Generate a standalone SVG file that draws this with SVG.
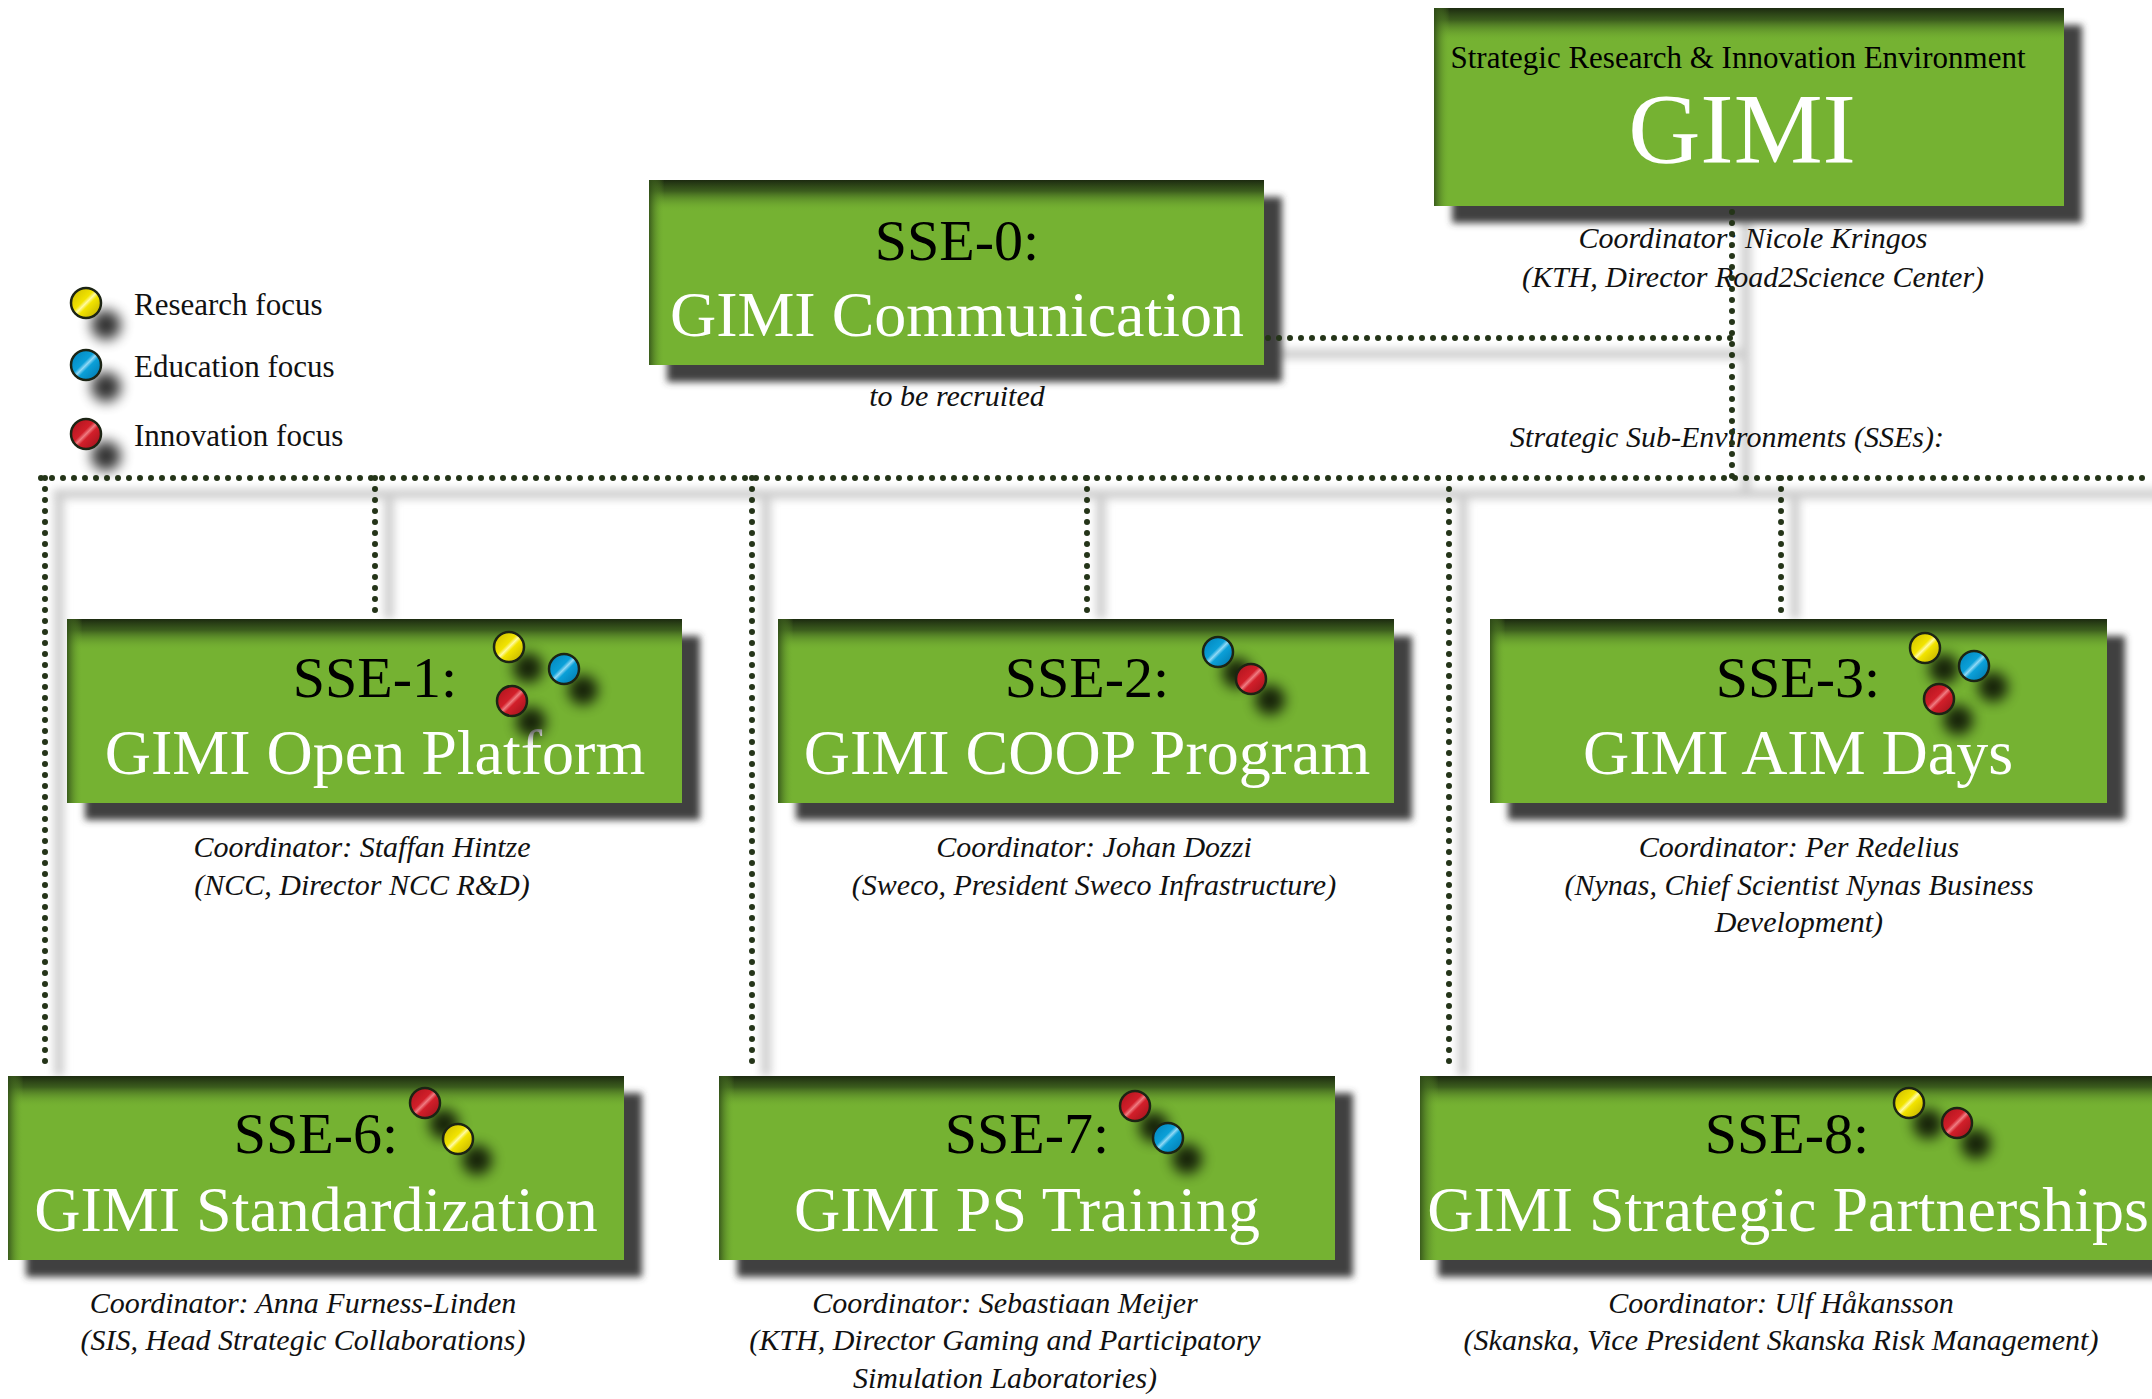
<svg xmlns="http://www.w3.org/2000/svg" width="2152" height="1399" viewBox="0 0 2152 1399">
  <style>
    .box { fill: #75b232; }
    .shadowbox { fill: #3f3f3f; }
    .topshade { fill: url(#topShade); }
    .leftshade { fill: url(#leftShade); }
    .head { font-family: "Liberation Serif", "DejaVu Serif", serif; font-size: 58px; fill: #000; text-anchor: middle; }
    .title { font-family: "Liberation Serif", "DejaVu Serif", serif; font-size: 64px; fill: #fff; text-anchor: middle; }
    .note { font-family: "Liberation Serif", "DejaVu Serif", serif; font-style: italic; font-size: 30px; fill: #111; text-anchor: middle; }
    .legend { font-family: "Liberation Serif", "DejaVu Serif", serif; font-size: 31px; fill: #111; }
    .dots { fill: none; stroke: #243418; stroke-width: 6; stroke-linecap: round; stroke-dasharray: 0 11; }
    .dotshadow { fill: none; stroke: #cfcfcf; stroke-width: 10; }
    .focus { stroke: #1c2414; stroke-width: 2.5; }
    .ballshadow { fill: #000; opacity: 0.8; filter: url(#ballBlur); }
  </style>
  <defs>
    <filter id="boxBlur" x="-10%" y="-10%" width="120%" height="120%">
      <feGaussianBlur stdDeviation="3.5"/>
    </filter>
    <filter id="lineBlur" x="-20%" y="-20%" width="140%" height="140%">
      <feGaussianBlur stdDeviation="4"/>
    </filter>
    <filter id="ballBlur" x="-100%" y="-100%" width="300%" height="300%">
      <feGaussianBlur stdDeviation="6.5"/>
    </filter>
    <linearGradient id="topShade" x1="0" y1="0" x2="0" y2="1">
      <stop offset="0" stop-color="#1c2a10" stop-opacity="1"/>
      <stop offset="0.06" stop-color="#2d4718" stop-opacity="0.8"/>
      <stop offset="0.17" stop-color="#75b232" stop-opacity="0"/>
    </linearGradient>
    <linearGradient id="leftShade" x1="0" y1="0" x2="1" y2="0">
      <stop offset="0" stop-color="#2f4c18" stop-opacity="0.85"/>
      <stop offset="0.025" stop-color="#75b232" stop-opacity="0"/>
    </linearGradient>
    <linearGradient id="gYellow" x1="0" y1="0" x2="1" y2="1">
      <stop offset="0" stop-color="#c9b800"/>
      <stop offset="0.42" stop-color="#f2e400"/>
      <stop offset="0.5" stop-color="#fffaa0"/>
      <stop offset="0.58" stop-color="#f2e400"/>
      <stop offset="1" stop-color="#b8a600"/>
    </linearGradient>
    <linearGradient id="gBlue" x1="0" y1="0" x2="1" y2="1">
      <stop offset="0" stop-color="#0080b8"/>
      <stop offset="0.42" stop-color="#0ba0d8"/>
      <stop offset="0.5" stop-color="#8fd8f5"/>
      <stop offset="0.58" stop-color="#0ba0d8"/>
      <stop offset="1" stop-color="#0072a8"/>
    </linearGradient>
    <linearGradient id="gRed" x1="0" y1="0" x2="1" y2="1">
      <stop offset="0" stop-color="#a8121b"/>
      <stop offset="0.42" stop-color="#d21f2a"/>
      <stop offset="0.5" stop-color="#ef7a80"/>
      <stop offset="0.58" stop-color="#d21f2a"/>
      <stop offset="1" stop-color="#98101a"/>
    </linearGradient>
  </defs>

  <!-- soft shadows under the dotted connectors -->
  <g id="connector-shadows" filter="url(#lineBlur)">
    <path class="dotshadow" d="M1276 354 H1744"/>
    <path class="dotshadow" d="M1746 220 V492"/>
    <path class="dotshadow" d="M53 494 H2160"/>
    <path class="dotshadow" d="M389 494 V619"/>
    <path class="dotshadow" d="M59 494 V1076"/>
    <path class="dotshadow" d="M766 494 V1076"/>
    <path class="dotshadow" d="M1101 494 V619"/>
    <path class="dotshadow" d="M1463 494 V1076"/>
    <path class="dotshadow" d="M1795 494 V619"/>
  </g>

  <!-- legend -->
  <g id="legend">
    <circle class="ballshadow" cx="106" cy="325" r="15"/>
    <circle class="focus" cx="86" cy="303" r="15" fill="url(#gYellow)"/>
    <text class="legend" x="134" y="315">Research focus</text>
    <circle class="ballshadow" cx="106" cy="387" r="15"/>
    <circle class="focus" cx="86" cy="365" r="15" fill="url(#gBlue)"/>
    <text class="legend" x="134" y="377">Education focus</text>
    <circle class="ballshadow" cx="106" cy="456" r="15"/>
    <circle class="focus" cx="86" cy="434" r="15" fill="url(#gRed)"/>
    <text class="legend" x="134" y="446">Innovation focus</text>
  </g>

  <!-- top level environment -->
  <g id="gimi">
    <rect class="shadowbox" x="1452" y="25" width="630" height="198" filter="url(#boxBlur)"/>
    <rect class="box" x="1434" y="8" width="630" height="198"/>
    <rect class="topshade" x="1434" y="8" width="630" height="198"/>
    <rect class="leftshade" x="1434" y="8" width="630" height="198"/>
    <text x="1738" y="68" font-family="Liberation Serif, DejaVu Serif, serif" font-size="31" fill="#000" text-anchor="middle">Strategic Research &amp; Innovation Environment</text>
    <text x="1742" y="162" font-family="Liberation Serif, DejaVu Serif, serif" font-size="100" fill="#fff" text-anchor="middle">GIMI</text>
    <text class="note" x="1753" y="248">Coordinator: Nicole Kringos</text>
    <text class="note" x="1753" y="287">(KTH, Director Road2Science Center)</text>
  </g>

  <g id="sse-0">
    <rect class="shadowbox" x="667" y="197" width="615" height="185" filter="url(#boxBlur)"/>
    <rect class="box" x="649" y="180" width="615" height="185"/>
    <rect class="topshade" x="649" y="180" width="615" height="185"/>
    <rect class="leftshade" x="649" y="180" width="615" height="185"/>
    <text class="head" x="957" y="260">SSE-0:</text>
    <text class="title" x="957" y="336">GIMI Communication</text>
    <text class="note" x="957" y="406">to be recruited</text>
  </g>

  <text class="note" x="1727" y="447">Strategic Sub-Environments (SSEs):</text>

  <g id="sse-1">
    <rect class="shadowbox" x="85" y="636" width="615" height="184" filter="url(#boxBlur)"/>
    <rect class="box" x="67" y="619" width="615" height="184"/>
    <rect class="topshade" x="67" y="619" width="615" height="184"/>
    <rect class="leftshade" x="67" y="619" width="615" height="184"/>
    <text class="head" x="375" y="697">SSE-1:</text>
    <text class="title" x="375" y="774">GIMI Open Platform</text>
    <circle class="ballshadow" cx="528" cy="668" r="15"/>
    <circle class="ballshadow" cx="583" cy="690" r="15"/>
    <circle class="ballshadow" cx="531" cy="722" r="15"/>
    <circle class="focus" cx="509" cy="647" r="15" fill="url(#gYellow)"/>
    <circle class="focus" cx="564" cy="669" r="15" fill="url(#gBlue)"/>
    <circle class="focus" cx="512" cy="701" r="15" fill="url(#gRed)"/>
    <text class="note" x="362" y="857">Coordinator: Staffan Hintze</text>
    <text class="note" x="362" y="895">(NCC, Director NCC R&amp;D)</text>
  </g>

  <g id="sse-2">
    <rect class="shadowbox" x="796" y="636" width="616" height="184" filter="url(#boxBlur)"/>
    <rect class="box" x="778" y="619" width="616" height="184"/>
    <rect class="topshade" x="778" y="619" width="616" height="184"/>
    <rect class="leftshade" x="778" y="619" width="616" height="184"/>
    <text class="head" x="1087" y="697">SSE-2:</text>
    <text class="title" x="1087" y="774">GIMI COOP Program</text>
    <circle class="ballshadow" cx="1237" cy="673" r="15"/>
    <circle class="ballshadow" cx="1270" cy="700" r="15"/>
    <circle class="focus" cx="1218" cy="652" r="15" fill="url(#gBlue)"/>
    <circle class="focus" cx="1251" cy="679" r="15" fill="url(#gRed)"/>
    <text class="note" x="1094" y="857">Coordinator: Johan Dozzi</text>
    <text class="note" x="1094" y="895">(Sweco, President Sweco Infrastructure)</text>
  </g>

  <g id="sse-3">
    <rect class="shadowbox" x="1508" y="636" width="617" height="184" filter="url(#boxBlur)"/>
    <rect class="box" x="1490" y="619" width="617" height="184"/>
    <rect class="topshade" x="1490" y="619" width="617" height="184"/>
    <rect class="leftshade" x="1490" y="619" width="617" height="184"/>
    <text class="head" x="1798" y="697">SSE-3:</text>
    <text class="title" x="1798" y="774">GIMI AIM Days</text>
    <circle class="ballshadow" cx="1944" cy="669" r="15"/>
    <circle class="ballshadow" cx="1993" cy="687" r="15"/>
    <circle class="ballshadow" cx="1958" cy="720" r="15"/>
    <circle class="focus" cx="1925" cy="648" r="15" fill="url(#gYellow)"/>
    <circle class="focus" cx="1974" cy="666" r="15" fill="url(#gBlue)"/>
    <circle class="focus" cx="1939" cy="699" r="15" fill="url(#gRed)"/>
    <text class="note" x="1799" y="857">Coordinator: Per Redelius</text>
    <text class="note" x="1799" y="895">(Nynas, Chief Scientist Nynas Business</text>
    <text class="note" x="1799" y="932">Development)</text>
  </g>

  <g id="sse-6">
    <rect class="shadowbox" x="26" y="1093" width="616" height="184" filter="url(#boxBlur)"/>
    <rect class="box" x="8" y="1076" width="616" height="184"/>
    <rect class="topshade" x="8" y="1076" width="616" height="184"/>
    <rect class="leftshade" x="8" y="1076" width="616" height="184"/>
    <text class="head" x="316" y="1153">SSE-6:</text>
    <text class="title" x="316" y="1231">GIMI Standardization</text>
    <circle class="ballshadow" cx="444" cy="1124" r="15"/>
    <circle class="ballshadow" cx="477" cy="1160" r="15"/>
    <circle class="focus" cx="425" cy="1103" r="15" fill="url(#gRed)"/>
    <circle class="focus" cx="458" cy="1139" r="15" fill="url(#gYellow)"/>
    <text class="note" x="303" y="1313">Coordinator: Anna Furness-Linden</text>
    <text class="note" x="303" y="1350">(SIS, Head Strategic Collaborations)</text>
  </g>

  <g id="sse-7">
    <rect class="shadowbox" x="737" y="1093" width="616" height="184" filter="url(#boxBlur)"/>
    <rect class="box" x="719" y="1076" width="616" height="184"/>
    <rect class="topshade" x="719" y="1076" width="616" height="184"/>
    <rect class="leftshade" x="719" y="1076" width="616" height="184"/>
    <text class="head" x="1027" y="1153">SSE-7:</text>
    <text class="title" x="1027" y="1231">GIMI PS Training</text>
    <circle class="ballshadow" cx="1154" cy="1127" r="15"/>
    <circle class="ballshadow" cx="1187" cy="1159" r="15"/>
    <circle class="focus" cx="1135" cy="1106" r="15" fill="url(#gRed)"/>
    <circle class="focus" cx="1168" cy="1138" r="15" fill="url(#gBlue)"/>
    <text class="note" x="1005" y="1313">Coordinator: Sebastiaan Meijer</text>
    <text class="note" x="1005" y="1350">(KTH, Director Gaming and Participatory</text>
    <text class="note" x="1005" y="1388">Simulation Laboratories)</text>
  </g>

  <g id="sse-8">
    <rect class="shadowbox" x="1438" y="1093" width="740" height="184" filter="url(#boxBlur)"/>
    <rect class="box" x="1420" y="1076" width="740" height="184"/>
    <rect class="topshade" x="1420" y="1076" width="740" height="184"/>
    <rect class="leftshade" x="1420" y="1076" width="740" height="184"/>
    <text class="head" x="1787" y="1153">SSE-8:</text>
    <text class="title" x="1788" y="1231">GIMI Strategic Partnerships</text>
    <circle class="ballshadow" cx="1928" cy="1124" r="15"/>
    <circle class="ballshadow" cx="1976" cy="1144" r="15"/>
    <circle class="focus" cx="1909" cy="1103" r="15" fill="url(#gYellow)"/>
    <circle class="focus" cx="1957" cy="1123" r="15" fill="url(#gRed)"/>
    <text class="note" x="1781" y="1313">Coordinator: Ulf Håkansson</text>
    <text class="note" x="1781" y="1350">(Skanska, Vice President Skanska Risk Management)</text>
  </g>

  <!-- dotted connectors -->
  <g id="connectors">
    <path class="dots" d="M1268 338 H1732"/>
    <path class="dots" d="M1732 212 V478"/>
    <path class="dots" d="M41 478 H2152"/>
    <path class="dots" d="M375 478 V616"/>
    <path class="dots" d="M45 478 V1072"/>
    <path class="dots" d="M752 478 V1072"/>
    <path class="dots" d="M1087 478 V616"/>
    <path class="dots" d="M1449 478 V1072"/>
    <path class="dots" d="M1781 478 V616"/>
  </g>
</svg>
